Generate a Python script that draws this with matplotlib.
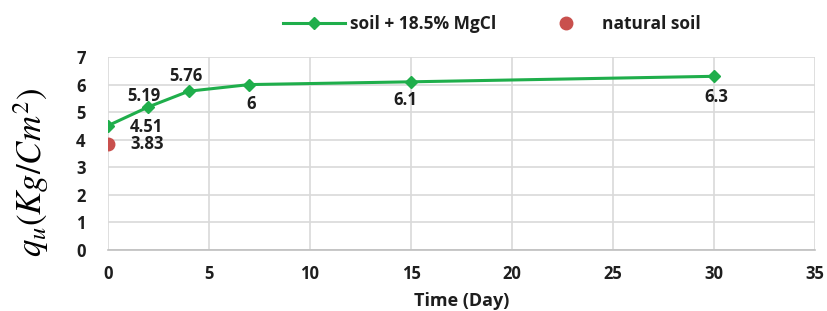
import matplotlib
matplotlib.use("Agg")
import matplotlib.pyplot as plt
from matplotlib.lines import Line2D

# datos
dias = [0, 2, 4, 7, 15, 30]
qu_mgcl = [4.51, 5.19, 5.76, 6, 6.1, 6.3]
etiquetas_mgcl = ["4.51", "5.19", "5.76", "6", "6.1", "6.3"]
dia_natural = [0]
qu_natural = [3.83]
etiquetas_natural = ["3.83"]
xticks = [0, 5, 10, 15, 20, 25, 30, 35]
yticks = [0, 1, 2, 3, 4, 5, 6, 7]

# desplazamiento (puntos) de cada etiqueta respecto a su marcador
offsets = [(16, -1), (-3, 8), (-2, 11), (1, -14), (-4, -13), (2, -15)]
alineado = ["left", "center", "center", "center", "center", "center"]

verde = "#1fae4b"
rojo = "#c9504d"
texto = "#1e1e1e"

plt.rcParams["font.family"] = ["Open Sans", "DejaVu Sans"]
plt.rcParams["mathtext.fontset"] = "stix"

fig = plt.figure(figsize=(8.28, 3.11), dpi=100)
ax = fig.add_axes([0.1304, 0.1961, 0.8539, 0.6206])

ax.plot(dias, qu_mgcl, color=verde, lw=2.2, marker="D", ms=6,
        label="soil + 18.5% MgCl", zorder=3)
ax.plot(dia_natural, qu_natural, ls="none", color=rojo, marker="o", ms=9,
        label="natural soil", zorder=3)

for x, y, t, off, ha in zip(dias, qu_mgcl, etiquetas_mgcl, offsets, alineado):
    ax.annotate(t, (x, y), xytext=off, textcoords="offset points",
                ha=ha, va="center", fontsize=12, fontweight="bold", color=texto)
for x, y, t in zip(dia_natural, qu_natural, etiquetas_natural):
    ax.annotate(t, (x, y), xytext=(16, 0), textcoords="offset points",
                ha="left", va="center", fontsize=12, fontweight="bold", color=texto)

ax.set_xlim(0, 35)
ax.set_ylim(0, 7)
ax.set_xticks(xticks)
ax.set_yticks(yticks)
ax.grid(True, color="#d9d9d9", lw=1.2)
ax.set_axisbelow(True)
for s in ["top", "right", "left"]:
    ax.spines[s].set_visible(False)
ax.spines["bottom"].set_color("#bfbfbf")
ax.spines["bottom"].set_linewidth(1.2)
ax.tick_params(length=0, labelsize=12, pad=11, labelcolor=texto)
ax.tick_params(axis="y", pad=16)
for lab in ax.get_xticklabels() + ax.get_yticklabels():
    lab.set_fontweight("bold")

ax.set_xlabel("Time (Day)", fontsize=13, fontweight="bold", color=texto, labelpad=6)
fig.text(0.038, 0.447, r"$q_u(Kg/Cm^2)$", rotation=90, fontsize=25,
         ha="center", va="center")

handles = [Line2D([], [], color=verde, lw=2.2, marker="D", ms=6),
           Line2D([], [], ls="none", color=rojo, marker="o", ms=9)]
fig.legend(handles, ["soil + 18.5% MgCl", "natural soil"], loc="center",
           bbox_to_anchor=(0.594, 0.923), ncol=2, frameon=False,
           prop={"weight": "bold", "size": 12.5}, handlelength=3.6,
           columnspacing=2.2, handletextpad=0.3, labelcolor=texto)

fig.savefig("out.png", dpi=100)
